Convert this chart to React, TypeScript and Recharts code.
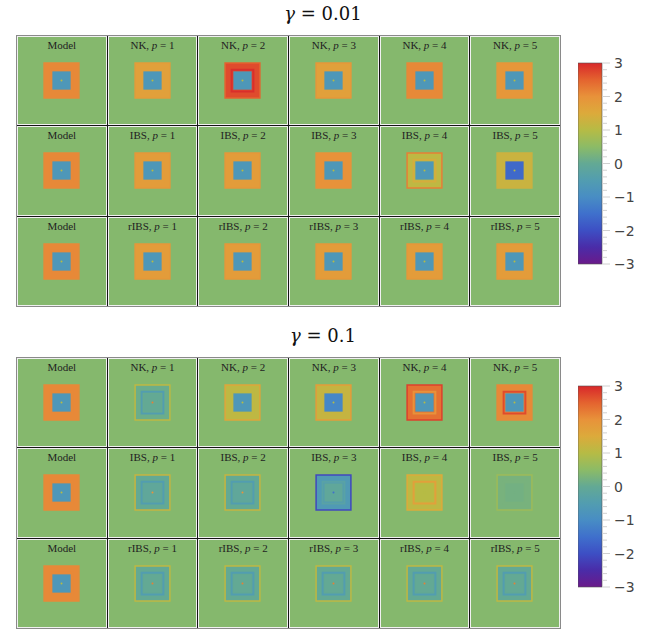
import { ScatterChart, Scatter, XAxis, YAxis, ReferenceArea } from 'recharts';

// panel columns and rows
const METHODS = ['NK', 'IBS', 'rIBS'];
const P_VALUES = [1, 2, 3, 4, 5];
const GAMMAS = ['0.01', '0.1'];
const BAR_TICKS = [-3, -2, -1, 0, 1, 2, 3];
const MINOR_STEPS = [0.2, 0.4, 0.6, 0.8];
const BG_VALUE = 0.42;

// gamma = 0.01 : values of the field in each panel
const RING_A = [
  [2.1, 1.7, 2.7, 1.7, 2.1, 1.9],
  [2.1, 1.8, 1.8, 2.0, 1.1, 1.25],
  [2.1, 1.8, 1.8, 1.8, 1.8, 1.8],
];
const EDGE_A = [
  [2.1, 1.8, 2.5, 1.9, 2.1, 1.9],
  [2.1, 1.9, 1.9, 2.0, 2.2, 1.3],
  [2.1, 1.9, 1.9, 1.9, 1.9, 1.9],
];
const CORE_A = [
  [-0.7, -0.7, -0.7, -0.7, -0.7, -0.7],
  [-0.7, -0.7, -0.7, -0.7, -0.7, -1.6],
  [-0.7, -0.7, -0.7, -0.7, -0.7, -0.7],
];
const CORE_EDGE_A = [
  [2.1, 1.7, 2.95, 1.7, 2.1, 1.9],
  [2.1, 1.8, 1.8, 2.0, 1.4, 1.25],
  [2.1, 1.8, 1.8, 1.8, 1.8, 1.8],
];
const DOT_A = [
  [1.0, 1.0, 1.0, 1.0, 1.0, 1.0],
  [1.0, 1.0, 1.0, 1.0, 1.0, 1.0],
  [1.0, 1.0, 1.0, 1.0, 1.0, 1.0],
];

// gamma = 0.1
const RING_B = [
  [2.1, 0.1, 1.1, 1.2, 2.35, 2.1],
  [2.1, 0.0, 0.0, -0.6, 1.1, 0.25],
  [2.1, 0.0, 0.0, 0.0, 0.0, 0.0],
];
const EDGE_B = [
  [2.1, 1.1, 1.6, 1.8, 2.8, 2.1],
  [2.1, 1.2, 1.2, -2.1, 1.5, 0.7],
  [2.1, 1.1, 1.1, 1.1, 1.1, 1.1],
];
const CORE_B = [
  [-0.7, 0.0, -0.7, -1.1, -0.7, -0.7],
  [-0.7, -0.1, -0.1, -0.1, 1.0, 0.2],
  [-0.7, 0.0, 0.0, 0.0, 0.0, 0.0],
];
const CORE_EDGE_B = [
  [2.1, -0.5, 1.1, 1.2, 2.0, 2.7],
  [2.1, -0.5, -0.5, -0.3, 1.7, 0.25],
  [2.1, -0.5, -0.5, -0.5, -0.5, -0.5],
];
const DOT_B = [
  [1.0, 2.2, 1.0, 1.0, 1.0, 1.0],
  [1.0, 2.0, 2.0, -1.5, 1.0, 0.2],
  [1.0, 2.2, 2.2, 2.2, 2.2, 2.2],
];

const GROUPS = [
  { ring: RING_A, edge: EDGE_A, core: CORE_A, coreEdge: CORE_EDGE_A, dot: DOT_A },
  { ring: RING_B, edge: EDGE_B, core: CORE_B, coreEdge: CORE_EDGE_B, dot: DOT_B },
];

const CMAP: [number, string][] = [
  [-3, '#6a1a8a'],
  [-2.5, '#4a2ca8'],
  [-2, '#3d4fc4'],
  [-1.5, '#3f70cc'],
  [-1, '#488dc4'],
  [-0.5, '#529db0'],
  [0, '#63a994'],
  [0.5, '#8cbb66'],
  [1, '#b6bb45'],
  [1.5, '#dcaa3b'],
  [2, '#e8923a'],
  [2.5, '#e4632f'],
  [3, '#d8282a'],
];

const hex = (c: string) => [1, 3, 5].map((i) => parseInt(c.slice(i, i + 2), 16));

const colorOf = (v: number) => {
  const x = Math.max(-3, Math.min(3, v));
  for (let i = 0; i < CMAP.length - 1; i++) {
    const [v0, c0] = CMAP[i];
    const [v1, c1] = CMAP[i + 1];
    if (x <= v1) {
      const t = (x - v0) / (v1 - v0);
      const a = hex(c0);
      const b = hex(c1);
      return 'rgb(' + a.map((q, k) => Math.round(q + (b[k] - q) * t)).join(',') + ')';
    }
  }
  return CMAP[CMAP.length - 1][1];
};

const serif = '"Liberation Serif", "DejaVu Serif", serif';
const GRID_W = 545;
const GRID_H = 272;
const CELL_W = Math.floor((GRID_W - 2 - 5) / 6 - 2);
const CELL_H = Math.floor((GRID_H - 2 - 2) / 3 - 2);
const CENTER = [{ x: 0.5, y: 0.5 }];

const PanelLabel = ({ row, col }: { row: number; col: number }) => (
  <div
    style={{
      position: 'absolute',
      top: 3,
      left: 0,
      width: '100%',
      textAlign: 'center',
      fontFamily: serif,
      fontSize: 11,
      lineHeight: '11px',
      color: '#222',
      zIndex: 2,
    }}
  >
    {col === 0 ? (
      'Model'
    ) : (
      <>
        {METHODS[row]}, <i>p</i> = {P_VALUES[col - 1]}
      </>
    )}
  </div>
);

const Panel = ({ g, row, col }: { g: number; row: number; col: number }) => {
  const d = GROUPS[g];
  const ring = colorOf(d.ring[row][col]);
  const dot = colorOf(d.dot[row][col]);
  return (
    <div
      style={{
        position: 'relative',
        border: '1px solid #f0f0f0',
        background: colorOf(BG_VALUE),
        overflow: 'hidden',
      }}
    >
      <PanelLabel row={row} col={col} />
      <ScatterChart width={CELL_W} height={CELL_H} margin={{ top: 0, right: 0, bottom: 0, left: 0 }}>
        <XAxis type="number" dataKey="x" domain={[0, 1]} hide />
        <YAxis type="number" dataKey="y" domain={[0, 1]} hide />
        <ReferenceArea
          x1={0.3}
          x2={0.7}
          y1={0.3}
          y2={0.7}
          fill={ring}
          fillOpacity={1}
          stroke={colorOf(d.edge[row][col])}
          strokeWidth={1.5}
          ifOverflow="visible"
        />
        <ReferenceArea
          x1={0.375}
          x2={0.625}
          y1={0.375}
          y2={0.625}
          fill="none"
          stroke={colorOf(d.coreEdge[row][col])}
          strokeWidth={2}
          ifOverflow="visible"
        />
        <ReferenceArea
          x1={0.395}
          x2={0.605}
          y1={0.395}
          y2={0.605}
          fill={colorOf(d.core[row][col])}
          fillOpacity={1}
          stroke="none"
          ifOverflow="visible"
        />
        <Scatter
          data={CENTER}
          isAnimationActive={false}
          shape={(p: any) => <circle cx={p.cx} cy={p.cy} r={1} fill={dot} />}
        />
      </ScatterChart>
    </div>
  );
};

const Grid = ({ g, top }: { g: number; top: number }) => (
  <div
    style={{
      position: 'absolute',
      left: 16,
      top,
      width: GRID_W,
      height: GRID_H,
      boxSizing: 'border-box',
      border: '1px solid #8a8a8a',
      background: '#151515',
      display: 'grid',
      gridTemplateColumns: 'repeat(6, 1fr)',
      gridTemplateRows: 'repeat(3, 1fr)',
      gap: 1,
    }}
  >
    {METHODS.map((_, row) => ['Model', ...P_VALUES].map((_, col) => <Panel key={row + '-' + col} g={g} row={row} col={col} />))}
  </div>
);

const allTicks = BAR_TICKS.flatMap((t) => (t < 3 ? [t, ...MINOR_STEPS.map((s) => t + s)] : [t]));

const BarTick = ({ x, y, payload }: any) => {
  const v = payload.value;
  const major = Math.abs(v - Math.round(v)) < 1e-6;
  const x0 = x - 8;
  return (
    <g>
      <line x1={x0} x2={x0 + (major ? 8 : 5)} y1={y} y2={y} stroke="#d0d0d0" strokeWidth={1} />
      {major && (
        <text x={x0 + 12} y={y} dy={5} fontSize={14} fill="#444" fontFamily='"DejaVu Sans", sans-serif'>
          {v < 0 ? '\u2212' + Math.abs(Math.round(v)) : Math.round(v)}
        </text>
      )}
    </g>
  );
};

const ColorBar = ({ top, id }: { top: number; id: string }) => (
  <div style={{ position: 'absolute', left: 578, top: top - 10 }}>
    <ScatterChart width={70} height={221} margin={{ top: 10, right: 0, bottom: 10, left: 0 }}>
      <defs>
        <linearGradient id={id} x1="0" y1="0" x2="0" y2="1">
          {[...CMAP].reverse().map(([v, c]) => (
            <stop key={v} offset={(3 - v) / 6} stopColor={c} />
          ))}
        </linearGradient>
      </defs>
      <XAxis type="number" dataKey="x" domain={[0, 1]} hide />
      <YAxis
        type="number"
        dataKey="y"
        orientation="right"
        domain={[-3, 3]}
        ticks={allTicks}
        interval={0}
        width={46}
        axisLine={false}
        tickLine={false}
        tick={<BarTick />}
      />
      <ReferenceArea
        x1={0}
        x2={1}
        y1={-3}
        y2={3}
        fill={`url(#${id})`}
        fillOpacity={1}
        stroke="#555"
        strokeWidth={0.6}
        ifOverflow="visible"
      />
      <Scatter data={CENTER} isAnimationActive={false} shape={() => <g />} />
    </ScatterChart>
  </div>
);

const Title = ({ top, gamma }: { top: number; gamma: string }) => (
  <div
    style={{
      position: 'absolute',
      left: 223,
      top,
      width: 200,
      textAlign: 'center',
      fontFamily: '"DejaVu Serif", serif',
      fontSize: 18,
      color: '#111',
    }}
  >
    <i>γ</i> = {gamma}
  </div>
);

export default function App() {
  return (
    <div style={{ position: 'absolute', left: 0, top: 0, width: 652, height: 631, background: '#fff' }}>
      <Title top={3} gamma={GAMMAS[0]} />
      <Grid g={0} top={35} />
      <ColorBar top={63} id="cbA" />
      <Title top={325} gamma={GAMMAS[1]} />
      <Grid g={1} top={357} />
      <ColorBar top={386} id="cbB" />
    </div>
  );
}
